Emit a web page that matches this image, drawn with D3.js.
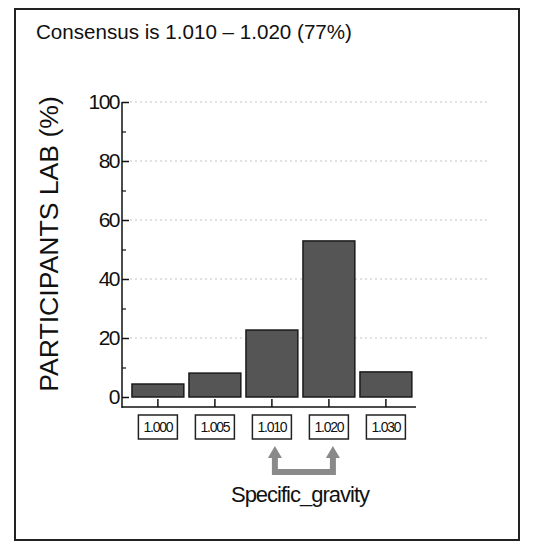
<!DOCTYPE html>
<html>
<head>
<meta charset="utf-8">
<script src="https://cdn.jsdelivr.net/npm/d3@7"></script>
<style>
  body { margin: 0; background: #fff; }
  svg text { font-family: Arial, "Liberation Sans", sans-serif; fill: #111; }
</style>
</head>
<body>
<svg id="chart" width="537" height="547"></svg>
<script>
// chart data
var categories = ['1.000', '1.005', '1.010', '1.020', '1.030'];
var values = [4.4, 8.1, 22.7, 52.9, 8.5];
var yTicks = [0, 20, 40, 60, 80, 100];
var yMinorTicks = [10, 30, 50, 70, 90];
var consensus = ['1.010', '1.020'];

var svg = d3.select('#chart');

// outer frame
svg.append('rect')
  .attr('x', 15).attr('y', 9)
  .attr('width', 504).attr('height', 531)
  .attr('fill', 'none').attr('stroke', '#222').attr('stroke-width', 2);

// title
svg.append('text')
  .attr('x', 36).attr('y', 39)
  .attr('font-size', 20.6)
  .text('Consensus is 1.010 \u2013 1.020 (77%)');

var y = d3.scaleLinear().domain([0, 100]).range([397, 102]);
var x = d3.scaleBand().domain(categories).range([129.4, 414.4])
  .paddingInner(0.09).paddingOuter(0.045);

// dotted grid
svg.append('g').selectAll('line')
  .data(yTicks.filter(function(d){ return d > 0; }))
  .join('line')
    .attr('x1', 130).attr('x2', 490)
    .attr('y1', function(d){ return y(d); })
    .attr('y2', function(d){ return y(d); })
    .attr('stroke', '#c4c4c4').attr('stroke-width', 1)
    .attr('stroke-dasharray', '2,3');

// y axis, ticks pointing inward
var yAxis = svg.append('g').attr('transform', 'translate(122,0)')
  .call(d3.axisRight(y).tickValues(yTicks).tickSize(7).tickFormat(''));
yAxis.select('.domain').attr('d', 'M0,' + y(100) + 'V408').attr('stroke', '#111').attr('stroke-width', 1.5);
yAxis.selectAll('.tick line').attr('stroke', '#111').attr('stroke-width', 1.5);

svg.append('g').attr('transform', 'translate(122,0)')
  .call(d3.axisRight(y).tickValues(yMinorTicks).tickSize(4).tickFormat(''))
  .call(function(g){ g.select('.domain').remove(); })
  .selectAll('.tick line').attr('stroke', '#111').attr('stroke-width', 1.2);

// y tick labels
svg.append('g').selectAll('text')
  .data(yTicks)
  .join('text')
    .attr('x', 119)
    .attr('y', function(d){ return y(d) + 7; })
    .attr('text-anchor', 'end')
    .attr('font-size', 21)
    .attr('letter-spacing', -1.5)
    .text(function(d){ return d; });

// y axis title
svg.append('text')
  .attr('transform', 'translate(58,244) rotate(-90)')
  .attr('text-anchor', 'middle')
  .attr('font-size', 26.6)
  .text('PARTICIPANTS LAB (%)');

// bars
svg.append('g').selectAll('rect')
  .data(values)
  .join('rect')
    .attr('x', function(d, i){ return x(categories[i]); })
    .attr('y', function(d){ return y(d); })
    .attr('width', x.bandwidth())
    .attr('height', function(d){ return y(0) - y(d); })
    .attr('fill', '#555').attr('stroke', '#1a1a1a').attr('stroke-width', 1.5);

// x axis, offset below zero, ticks pointing up
var xAxis = svg.append('g').attr('transform', 'translate(0,407)')
  .call(d3.axisTop(x).tickSize(8).tickFormat(''));
xAxis.select('.domain').attr('d', 'M122,0H416').attr('stroke', '#111').attr('stroke-width', 1.5);
xAxis.selectAll('.tick line').attr('stroke', '#111').attr('stroke-width', 1.5);

// boxed category labels
var labels = svg.append('g').selectAll('g')
  .data(categories)
  .join('g')
    .attr('transform', function(d){ return 'translate(' + (x(d) + x.bandwidth() / 2) + ',415)'; });
labels.append('rect')
  .attr('x', -19.5).attr('y', 0).attr('width', 39).attr('height', 24)
  .attr('fill', '#fff').attr('stroke', '#222').attr('stroke-width', 1.5);
labels.append('text')
  .attr('y', 17)
  .attr('text-anchor', 'middle')
  .attr('font-size', 14)
  .attr('letter-spacing', -1.2)
  .text(function(d){ return d; });

// consensus bracket arrows
var ax1 = x(consensus[0]) + x.bandwidth() / 2 + 3;
var ax2 = x(consensus[1]) + x.bandwidth() / 2 + 4;
svg.append('path')
  .attr('d', 'M' + ax1 + ',456V472H' + ax2 + 'V456')
  .attr('fill', 'none').attr('stroke', '#8a8a8a').attr('stroke-width', 6)
  .attr('stroke-linejoin', 'miter');
[ax1, ax2].forEach(function(cx){
  svg.append('path')
    .attr('d', 'M' + (cx - 7) + ',458L' + cx + ',446L' + (cx + 7) + ',458Z')
    .attr('fill', '#8a8a8a');
});

// x axis title
svg.append('text')
  .attr('x', 300).attr('y', 502)
  .attr('text-anchor', 'middle')
  .attr('font-size', 22)
  .attr('letter-spacing', -1)
  .text('Specific_gravity');
</script>
</body>
</html>
